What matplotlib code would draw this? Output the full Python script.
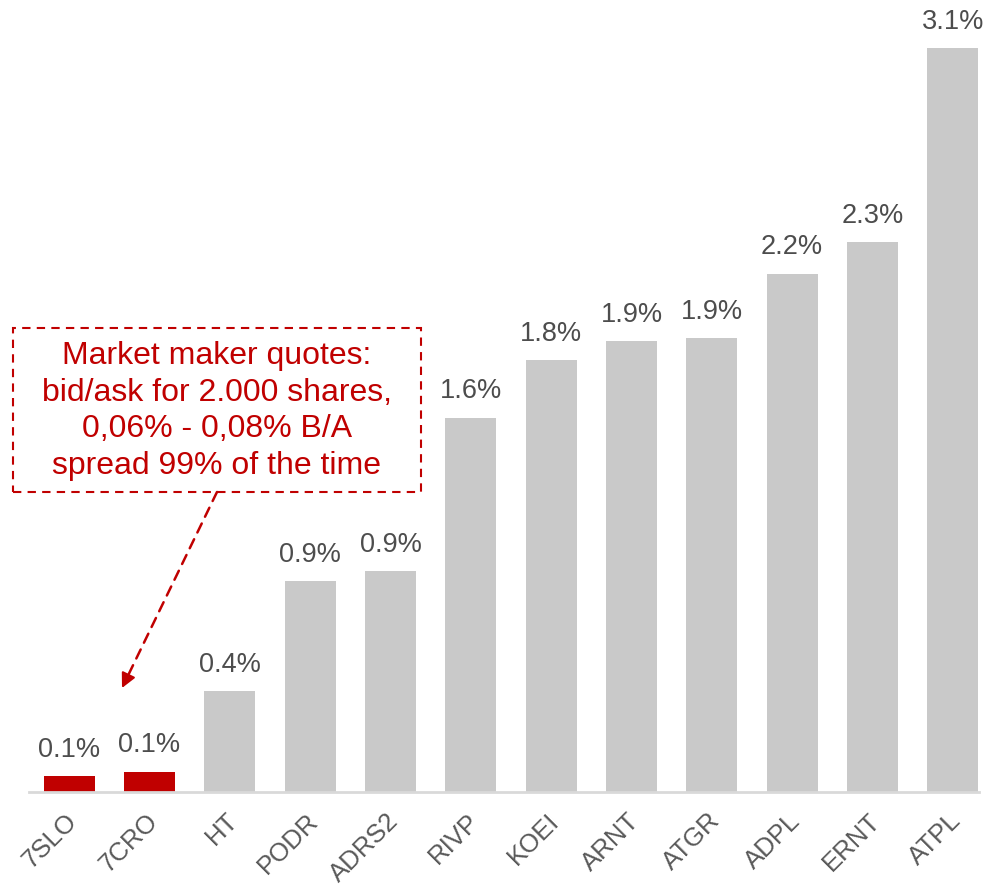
import matplotlib.pyplot as plt
import matplotlib.transforms as mtransforms
from matplotlib.patches import Rectangle

plt.rcParams['font.family'] = ['Liberation Sans', 'DejaVu Sans']

tickers = ['7SLO', '7CRO', 'HT', 'PODR', 'ADRS2', 'RIVP', 'KOEI',
           'ARNT', 'ATGR', 'ADPL', 'ERNT', 'ATPL']
spreads = [0.065, 0.085, 0.42, 0.88, 0.92, 1.56, 1.80,
           1.88, 1.89, 2.16, 2.29, 3.10]
labels = ['0.1%', '0.1%', '0.4%', '0.9%', '0.9%', '1.6%', '1.8%',
          '1.9%', '1.9%', '2.2%', '2.3%', '3.1%']
highlight = ['7SLO', '7CRO']
note = ("Market maker quotes:\nbid/ask for 2.000 shares,\n"
        "0,06% - 0,08% B/A\nspread 99% of the time")

RED = '#C00000'
GREY = '#C9C9C9'

fig = plt.figure(figsize=(9.87, 8.86), dpi=100)
ax = fig.add_axes([29 / 987, 94 / 886, 964 / 987, 792 / 886])

colors = [RED if t in highlight else GREY for t in tickers]
x = range(len(tickers))
ax.bar(x, spreads, width=0.635, color=colors)

for i, (v, lab) in enumerate(zip(spreads, labels)):
    ax.text(i, v + 0.055, lab, ha='center', va='bottom', fontsize=19.5, color='#4D4D4D')

ax.set_xlim(-0.5, len(tickers) - 0.5)
ax.set_ylim(0, 3.3)
ax.set_yticks([])
ax.set_xticks(list(x))
ax.set_xticklabels(tickers, rotation=45, ha='right', rotation_mode='anchor',
                   fontsize=18.5, color='#595959')
ax.tick_params(axis='x', length=0, pad=12)
shift = mtransforms.ScaledTranslation(-4 / 100, 0, fig.dpi_scale_trans)
for lbl in ax.get_xticklabels():
    lbl.set_transform(lbl.get_transform() + shift)
for s in ['top', 'right', 'left']:
    ax.spines[s].set_visible(False)
ax.spines['bottom'].set_color('#D9D9D9')
ax.spines['bottom'].set_linewidth(2)
ax.spines['bottom'].set_bounds(-0.5, 11.32)

# callout box
fig.patches.append(Rectangle((13 / 987, (886 - 492) / 886), 408 / 987, 164 / 886,
                             transform=fig.transFigure, fill=False, ec=RED,
                             ls=(0, (4, 3)), lw=1.5))
fig.text(217 / 987, (886 - 411) / 886, note, ha='center', va='center',
         fontsize=23, color=RED, linespacing=1.3)

# dashed arrow
start = (217, 886 - 492)
end = (122, 886 - 688)
ax.annotate('', xy=end, xytext=start, xycoords='figure pixels',
            textcoords='figure pixels',
            arrowprops=dict(arrowstyle='-', color=RED, lw=1.8, ls=(0, (4, 3)),
                            shrinkA=0, shrinkB=8))
ax.annotate('', xy=end, xytext=(end[0] + 5, end[1] + 10.3), xycoords='figure pixels',
            textcoords='figure pixels',
            arrowprops=dict(arrowstyle='-|>', color=RED, lw=1.5,
                            mutation_scale=22, shrinkA=0, shrinkB=0))

fig.savefig('out.png', dpi=100)
